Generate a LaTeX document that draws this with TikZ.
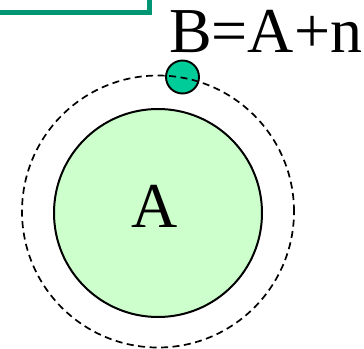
\documentclass[tikz,border=0pt]{standalone}
\usepackage{fontspec}
\setmainfont{Liberation Serif}
\usepackage{tikz}
\usetikzlibrary{positioning}
\definecolor{cBox}{RGB}{0,150,115}
\definecolor{cNeut}{RGB}{0,204,153}
\definecolor{cNucl}{RGB}{204,255,204}

\begin{document}
\begin{tikzpicture}[x=1pt,y=-1pt,
   nucl/.style={draw,circle,fill=cNucl,line width=2pt,minimum size=208pt,inner sep=0pt},
   neut/.style={draw,circle,fill=cNeut,line width=1.9pt,minimum size=33pt,inner sep=0pt},
   orbit/.style={draw,circle,dash pattern=on 7pt off 4.5pt,line width=1.7pt,minimum size=272pt,inner sep=0pt},
   big/.style={inner sep=0pt,font=\fontsize{64}{64}\selectfont}]
  \useasboundingbox (0,0) rectangle (364,348);
  \clip (0,0) rectangle (364,348);
  \draw[cBox,line width=4.5pt] (-20,-20) rectangle (149.5,12.5);
  \node[nucl] (A) at (158,213) {};
  \node[big,anchor=base] (Alabel) at (155,227) {A};
  \node[neut] (n) at (182.5,77) {};
  \node[orbit] (orb) at (158,211.5) {};
  \node[big,anchor=base west] (eq) at (169,52) {B=A+n};
\end{tikzpicture}
\end{document}
